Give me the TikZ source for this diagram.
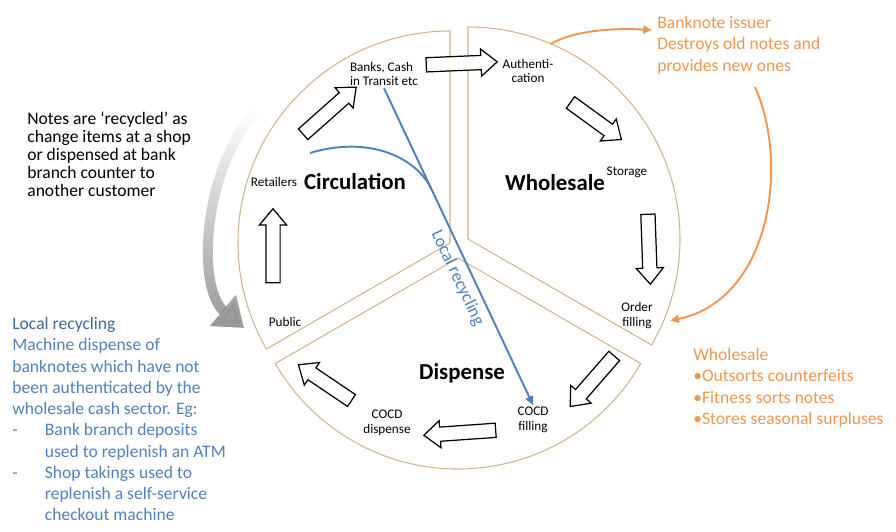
\documentclass[tikz,border=0pt]{standalone}
\usepackage{fontspec}
\setmainfont{Carlito}
\usetikzlibrary{arrows.meta,shapes.arrows,fadings}

\definecolor{rimline}{RGB}{214,178,140}
\definecolor{localblue}{RGB}{79,129,189}
\definecolor{issuerorange}{RGB}{240,150,80}
\definecolor{returngrey}{RGB}{150,150,150}

\tikzfading[name=fade up, top color=transparent!100, bottom color=transparent!0]

\tikzset{
  sector/.style={draw=rimline, line width=0.6pt, fill=white},
  flow/.style={single arrow, draw=black, fill=white, line width=0.7pt,
    inner xsep=0pt, inner ysep=0.13cm, single arrow head extend=0.13cm,
    single arrow tip angle=80},
  stage/.style={font=\fontsize{7.5}{8.5}\selectfont, align=center, inner sep=1pt},
  phase/.style={font=\bfseries\fontsize{13}{15}\selectfont, inner sep=1pt},
  note/.style={font=\fontsize{10}{10.3}\selectfont, align=left, inner sep=0pt, anchor=north west},
  side/.style={note, font=\fontsize{10}{12.1}\selectfont},
  recline/.style={draw=localblue, line width=1.1pt},
  issueline/.style={draw=issuerorange, line width=1.1pt, -{Triangle[length=5pt, width=4.5pt]}},
}

\begin{document}
\begin{tikzpicture}[x=0.02cm, y=-0.02cm]
  \useasboundingbox (0,0) rectangle (896,531);

  % centres of the three sectors
  \coordinate (circ0) at (450,243);
  \coordinate (ws0) at (468,239);
  \coordinate (disp0) at (458,258);

  % sectors
  \draw[sector] (circ0) -- ++(270:212) arc[start angle=270, end angle=150, radius=212] -- cycle;
  \draw[sector] (ws0) -- ++(-90:212) arc[start angle=-90, end angle=30, radius=212] -- cycle;
  \draw[sector] (disp0) -- ++(30:211) arc[start angle=30, end angle=150, radius=211] -- cycle;

  % grey arrow, notes going back into circulation
  \coordinate (back0) at (255,112);
  \coordinate (back1) at (244,328);
  \draw[returngrey, line width=0.2cm, path fading=fade up,
    -{Triangle[length=0.55cm, width=0.78cm]}]
    (back0) .. controls (203,170) and (196,288) .. (back1);

  % stages
  \node[stage, align=left] (banks) at (384,74) {Banks, Cash\\in Transit etc};
  \node[stage] (auth) at (528,71) {Authenti-\\cation};
  \node[stage] (storage) at (627,172) {Storage};
  \node[stage] (order) at (637,316) {Order\\filling};
  \node[stage] (cocdf) at (533,420) {COCD\\filling};
  \node[stage] (cocdd) at (387,423) {COCD\\dispense};
  \node[stage] (public) at (285,322) {Public};
  \node[stage] (retail) at (274,182) {Retailers};

  % sector titles
  \node[phase] (circ) at (355,182) {Circulation};
  \node[phase] (whole) at (555,183) {Wholesale};
  \node[phase] (disp) at (462,373) {Dispense};

  % block arrows round the wheel
  \node[flow, minimum height=1.48cm, rotate=90] (f1) at (273,250) {};
  \node[flow, minimum height=1.42cm, rotate=41.6] (f2) at (326.5,113.5) {};
  \node[flow, minimum height=1.42cm, rotate=2.4] (f3) at (457.5,63.5) {};
  \node[flow, minimum height=1.26cm, rotate=-36] (f4) at (592.5,118.5) {};
  \node[flow, minimum height=1.40cm, rotate=-88] (f5) at (649,245) {};
  \node[flow, minimum height=1.34cm, rotate=-131] (f6) at (595,378) {};
  \node[flow, minimum height=1.44cm, rotate=184] (f7) at (464,432.5) {};
  \node[flow, minimum height=1.28cm, rotate=146] (f8) at (328.5,385) {};

  % local recycling
  \draw[recline, -{Triangle[length=5pt, width=4.5pt]}] (banks.south)
    -- node[sloped, below, pos=0.58, text=localblue, font=\fontsize{10}{12}\selectfont] (reclabel) {Local recycling}
    (cocdf.north);
  \path (banks.south) -- (cocdf.north) coordinate[pos=0.32] (recmerge);
  \coordinate (rec0) at (310,153);
  \draw[recline] (rec0) .. controls (370,135) and (417,158) .. (recmerge);

  % side notes
  \node[note] (notes) at (27,111) {Notes are ‘recycled’ as\\change items at a shop\\or dispensed at bank\\branch counter to\\another customer};
  \node[side, text=localblue] (localtxt) at (12,317) {{\color{localblue!80!black}Local recycling}\\
    Machine dispense of\\banknotes which have not\\been authenticated by the\\wholesale cash sector. Eg:\\
    \makebox[18.5pt][l]{-}Bank branch deposits\\\hspace*{18.5pt}used to replenish an ATM\\
    \makebox[18.5pt][l]{-}Shop takings used to\\\hspace*{18.5pt}replenish a self-service\\\hspace*{18.5pt}checkout machine};
  \node[side, text=issuerorange] (issuer) at (657,16) {Banknote issuer\\Destroys old notes and\\provides new ones};
  \node[side, text=issuerorange] (wstxt) at (693,348) {Wholesale\\•Outsorts counterfeits\\•Fitness sorts notes\\•Stores seasonal surpluses};

  % issuer arrows
  \path (ws0) ++(-67:212) coordinate (wsout);
  \path (ws0) ++(22:218) coordinate (wsin);
  \coordinate (issuerin) at (652,30);
  \coordinate (issuerout) at (755,87);
  \draw[issueline] (wsout) .. controls (575,30) and (615,28) .. (issuerin);
  \draw[issueline] (issuerout) .. controls (790,165) and (770,300) .. (wsin);
\end{tikzpicture}
\end{document}
